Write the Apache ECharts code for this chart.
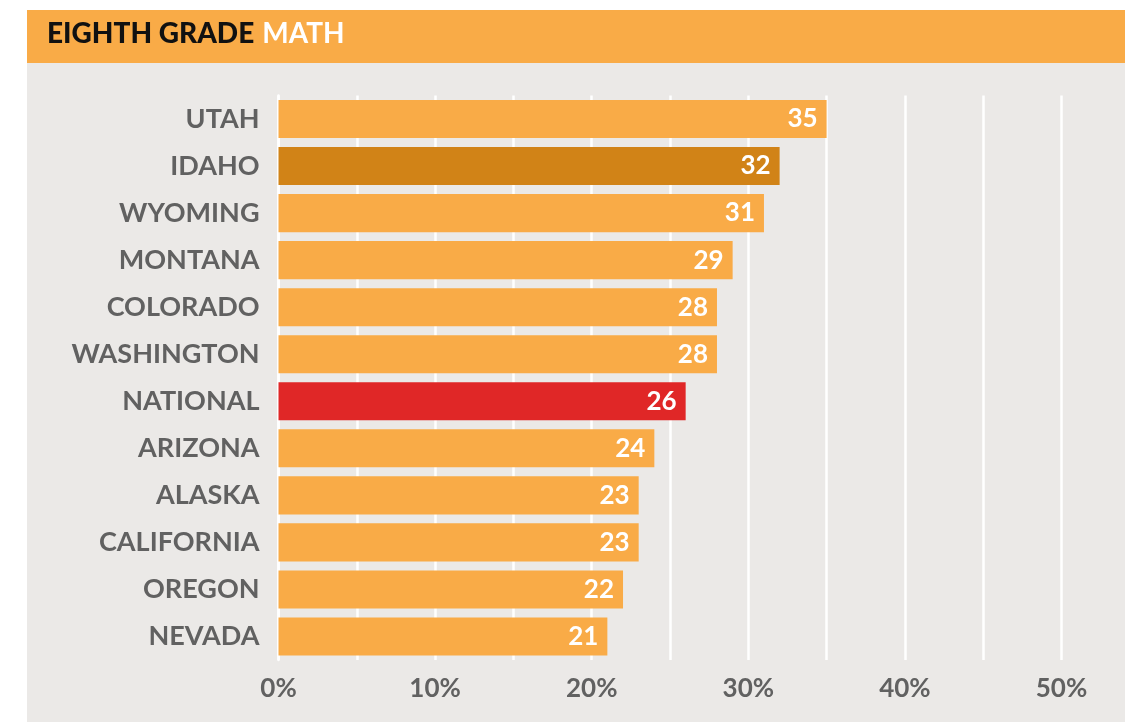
<!DOCTYPE html>
<html>
<head>
<meta charset="utf-8">
<script src="https://cdn.jsdelivr.net/npm/echarts@6/dist/echarts.min.js"></script>
<style>
  html, body { margin: 0; padding: 0; background: #fff; }
  #chart { width: 1125px; height: 722px; }
</style>
</head>
<body>
<div id="chart"></div>
<script>
// data
const states = ['UTAH', 'IDAHO', 'WYOMING', 'MONTANA', 'COLORADO', 'WASHINGTON',
  'NATIONAL', 'ARIZONA', 'ALASKA', 'CALIFORNIA', 'OREGON', 'NEVADA']
const scores = [35, 32, 31, 29, 28, 28, 26, 24, 23, 23, 22, 21]
const xTicks = [0, 10, 20, 30, 40, 50]

const ORANGE = '#F9AB47'
const highlight = { IDAHO: '#D18317', NATIONAL: '#E02727' }
const GRAY = '#616161'
const FONT = 'Lato'

const chart = echarts.init(document.getElementById('chart'))

chart.setOption({
  animation: false,
  graphic: [
    { type: 'rect', z: -10, shape: { x: 27, y: 63, width: 1098, height: 659 }, style: { fill: '#EBE9E7' } },
    { type: 'rect', z: -10, shape: { x: 27, y: 10, width: 1098, height: 53 }, style: { fill: ORANGE } },
    {
      type: 'text', left: 47, top: 20,
      style: {
        text: '{a|EIGHTH GRADE}{b|MATH}',
        rich: {
          a: { fontFamily: FONT, fontWeight: 900, fontSize: 28, fill: '#111' },
          b: { fontFamily: FONT, fontWeight: 700, fontSize: 28, fill: '#fff', padding: [0, 0, 0, 8] }
        }
      }
    }
  ],
  grid: { left: 278.5, right: 63.5, top: 95.5, bottom: 62, containLabel: false },
  xAxis: {
    type: 'value', min: 0, max: 50, interval: 5,
    axisLine: { show: false }, axisTick: { show: false },
    splitLine: { show: true, lineStyle: { color: '#fff', width: 2.5 } },
    axisLabel: {
      margin: 16, color: GRAY, fontFamily: FONT, fontWeight: 'bold', fontSize: 26,
      formatter: v => xTicks.includes(v) ? v + '%' : ''
    }
  },
  yAxis: {
    type: 'category', data: states, inverse: true,
    axisLine: { show: true, lineStyle: { color: '#fff', width: 2.5 } },
    axisTick: { show: false },
    axisLabel: { margin: 19, color: GRAY, fontFamily: FONT, fontWeight: 'bold', fontSize: 27 }
  },
  series: [{
    type: 'bar',
    data: scores.map((v, i) => ({
      value: v,
      itemStyle: { color: highlight[states[i]] || ORANGE }
    })),
    barCategoryGap: '19%',
    z: 3,
    label: {
      show: true, position: 'insideRight', distance: 9,
      color: '#fff', fontFamily: FONT, fontWeight: 'bold', fontSize: 26
    }
  }]
})
</script>
</body>
</html>
